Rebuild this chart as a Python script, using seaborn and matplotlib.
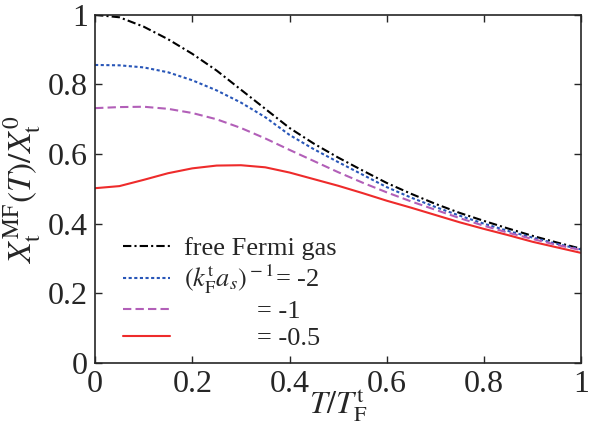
import pandas as pd
import numpy as np
import matplotlib
matplotlib.use("Agg")
import matplotlib.pyplot as plt
import seaborn as sns

# values
T = [0.0, 0.05, 0.1, 0.15, 0.2, 0.25, 0.3, 0.35, 0.4, 0.45, 0.5,
     0.55, 0.6, 0.65, 0.7, 0.75, 0.8, 0.85, 0.9, 0.95, 1.0]
free_gas = [1.000, 0.993, 0.966, 0.930, 0.888, 0.840, 0.785, 0.730, 0.675, 0.630, 0.590,
            0.553, 0.517, 0.486, 0.457, 0.431, 0.408, 0.386, 0.365, 0.346, 0.328]
inv_m2 = [0.856, 0.855, 0.849, 0.835, 0.812, 0.783, 0.748, 0.706, 0.655, 0.614, 0.577,
          0.541, 0.505, 0.475, 0.448, 0.423, 0.400, 0.379, 0.360, 0.342, 0.326]
inv_m1 = [0.732, 0.735, 0.736, 0.730, 0.718, 0.700, 0.675, 0.645, 0.612, 0.580, 0.548,
          0.518, 0.490, 0.464, 0.440, 0.416, 0.394, 0.374, 0.356, 0.339, 0.324]
inv_m05 = [0.502, 0.508, 0.526, 0.545, 0.559, 0.567, 0.568, 0.562, 0.547, 0.528, 0.509,
           0.488, 0.466, 0.446, 0.425, 0.404, 0.385, 0.367, 0.348, 0.332, 0.316]

pad = " " * 11
labels = ["free Fermi gas",
          r"$(k_{\rm F}^{\rm t}a_s)^{\rm -1}$= -2",
          pad + "= -1",
          pad + "= -0.5"]

df = pd.DataFrame({"T": T * 4,
                   "X": free_gas + inv_m2 + inv_m1 + inv_m05,
                   "curve": sum([[l] * len(T) for l in labels], [])})

sns.set_style("ticks")
plt.rcParams['font.family'] = ['Liberation Serif', 'DejaVu Serif']
plt.rcParams['mathtext.fontset'] = 'stix'

fig = plt.figure(figsize=(5.98, 4.24), dpi=100)
ax = fig.add_axes([0.159, 0.144, 0.813, 0.821])

colors = ["black", "#2856b8", "#b25fb8", "#ee2b2b"]
styles = [(0, (4, 1.5, 1, 1.5)), (0, (1.5, 1.2)), (0, (4, 2)), "-"]
for lab, c, ls in zip(labels, colors, styles):
    sns.lineplot(data=df[df["curve"] == lab], x="T", y="X", color=c,
                 linestyle=ls, linewidth=1.5, label=lab, ax=ax)

ax.set_xlim(0, 1)
ax.set_ylim(0, 1)
ticks = [0, 0.2, 0.4, 0.6, 0.8, 1]
ax.set_xticks(ticks)
ax.set_yticks(ticks)
ax.set_xticklabels(["0", "0.2", "0.4", "0.6", "0.8", "1"])
ax.set_yticklabels(["0", "0.2", "0.4", "0.6", "0.8", "1"])
ax.tick_params(direction="in", length=5, width=1, labelsize=23,
               top=True, right=True, pad=5)
for s in ax.spines.values():
    s.set_linewidth(1.2)

ax.set_xlabel(r"$T/T_{\rm F}^{\rm t}$", fontsize=23, labelpad=-9)
ax.set_ylabel(r"$X_{\rm t}^{\rm MF}(T)/X_{\rm t}^{0}$", fontsize=24)
ax.yaxis.set_label_coords(-0.108, 0.5)

ax.legend(loc="lower left", bbox_to_anchor=(0.03, 0.0), frameon=False,
          fontsize=19, handlelength=1.8, handletextpad=0.5, labelspacing=0.12,
          borderpad=0)

fig.savefig("out.png", dpi=100)
